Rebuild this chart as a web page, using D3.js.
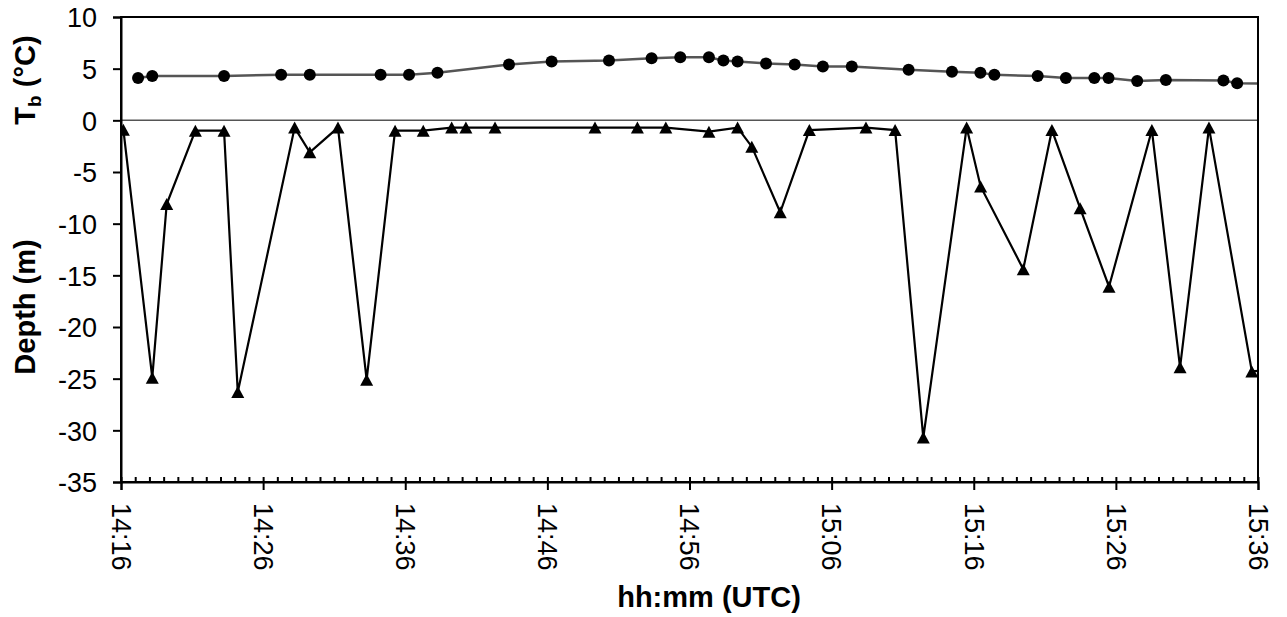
<!DOCTYPE html>
<html>
<head>
<meta charset="utf-8">
<script src="https://cdn.jsdelivr.net/npm/d3@7/dist/d3.min.js"></script>
<style>
  html, body { margin: 0; padding: 0; background: #fff; }
  svg { display: block; }
  text { font-family: "Liberation Sans", Arial, sans-serif; fill: #000; }
</style>
</head>
<body>
<svg id="chart" width="1287" height="617"></svg>
<script>
// ---- data ----
const tempTimes = ["14:17:12","14:18:12","14:23:15","14:27:16","14:29:17","14:34:16","14:36:16","14:38:16",
  "14:43:18","14:46:18","14:50:20","14:53:20","14:55:21","14:57:22","14:58:23","14:59:23","15:01:23",
  "15:03:24","15:05:23","15:07:25","15:11:25","15:14:28","15:16:28","15:17:27","15:20:30","15:22:29",
  "15:24:29","15:25:29","15:27:30","15:29:31","15:33:34","15:34:32","15:36:30"];
const tempValues = [4.1,4.3,4.3,4.4,4.4,4.4,4.4,4.6,
  5.4,5.7,5.8,6.0,6.1,6.1,5.8,5.7,5.5,
  5.4,5.2,5.2,4.9,4.7,4.6,4.4,4.3,4.1,
  4.1,4.1,3.8,3.9,3.85,3.6,3.55];

const depthTimes = ["14:16:10","14:18:12","14:19:13","14:21:14","14:23:15","14:24:13","14:28:13","14:29:17",
  "14:31:16","14:33:17","14:35:17","14:37:16","14:39:16","14:40:16","14:42:19","14:49:21","14:52:20",
  "14:54:20","14:57:22","14:59:23","15:00:23","15:02:23","15:04:26","15:08:25","15:10:28","15:12:27",
  "15:15:30","15:16:29","15:19:29","15:21:30","15:23:29","15:25:31","15:28:32","15:30:31","15:32:33",
  "15:35:34","15:36:30"];
const depthValues = [-0.9,-24.9,-8.1,-1.0,-1.0,-26.3,-0.7,-3.1,
  -0.7,-25.1,-1.0,-1.0,-0.7,-0.7,-0.7,-0.7,-0.7,
  -0.7,-1.1,-0.7,-2.55,-8.9,-0.94,-0.7,-0.94,-30.7,
  -0.7,-6.4,-14.4,-0.94,-8.5,-16.1,-0.94,-23.9,-0.7,
  -24.3,-24.2];

const xDomain = ["14:16:00","15:36:00"];
const xTickLabels = ["14:16","14:26","14:36","14:46","14:56","15:06","15:16","15:26","15:36"];
const yTicks = [10,5,0,-5,-10,-15,-20,-25,-30,-35];
const yDomain = [-35, 10];

// ---- layout ----
const svg = d3.select("#chart");
const L = 121, T = 17, W = 1137, H = 465;
const parse = d3.timeParse("%H:%M:%S");
const parseHM = d3.timeParse("%H:%M");

const x = d3.scaleTime().domain(xDomain.map(parse)).range([L, L + W]);
const y = d3.scaleLinear().domain(yDomain).range([T + H, T]);

const tempData = tempTimes.map((t, i) => ({ t: parse(t), v: tempValues[i] }));
const depthData = depthTimes.map((t, i) => ({ t: parse(t), v: depthValues[i] }));

svg.append("defs").append("clipPath").attr("id", "plotclip")
  .append("rect").attr("x", L).attr("y", T).attr("width", W).attr("height", H);

// zero line
svg.append("line")
  .attr("x1", L).attr("x2", L + W).attr("y1", y(0)).attr("y2", y(0))
  .attr("stroke", "#555").attr("stroke-width", 1.5);

const g = svg.append("g").attr("clip-path", "url(#plotclip)");
const line = d3.line().x(d => x(d.t)).y(d => y(d.v));

g.append("path").datum(tempData).attr("d", line)
  .attr("fill", "none").attr("stroke", "#555").attr("stroke-width", 2.5);
g.append("path").datum(depthData).attr("d", line)
  .attr("fill", "none").attr("stroke", "#000").attr("stroke-width", 2.2);

g.selectAll("circle.tb").data(tempData).join("circle").attr("class", "tb")
  .attr("cx", d => x(d.t)).attr("cy", d => y(d.v)).attr("r", 6).attr("fill", "#000");

const tw = 13, th = 12;
const tri = `M0,${-th/2}L${tw/2},${th/2}L${-tw/2},${th/2}Z`;
g.selectAll("path.dp").data(depthData).join("path").attr("class", "dp")
  .attr("d", tri)
  .attr("transform", d => `translate(${x(d.t)},${y(d.v)})`)
  .attr("fill", "#000");

// frame
svg.append("rect").attr("x", L).attr("y", T).attr("width", W).attr("height", H)
  .attr("fill", "none").attr("stroke", "#000").attr("stroke-width", 2);

// y axis
const yAxis = svg.append("g").attr("transform", `translate(${L},0)`)
  .call(d3.axisLeft(y).tickValues(yTicks).tickSize(8).tickPadding(16).tickFormat(d3.format("d")));
yAxis.select(".domain").attr("stroke-width", 2);
yAxis.selectAll(".tick line").attr("stroke-width", 2);
yAxis.selectAll("text").attr("font-size", 27).attr("dy", "0.36em")
  .text(d => d < 0 ? "-" + Math.abs(d) : d);

// x axis major
const xMajor = xTickLabels.map(parseHM);
const xAxis = svg.append("g").attr("transform", `translate(0,${T + H})`)
  .call(d3.axisBottom(x).tickValues(xMajor).tickSize(8).tickFormat(d3.timeFormat("%H:%M")));
xAxis.select(".domain").attr("stroke-width", 2);
xAxis.selectAll(".tick line").attr("stroke-width", 2);
xAxis.selectAll("text").attr("font-size", 27)
  .attr("transform", "rotate(90)")
  .attr("text-anchor", "start")
  .attr("x", 21).attr("y", 0).attr("dy", "0.36em");

// x axis minor (inside)
const xMinor = svg.append("g").attr("transform", `translate(0,${T + H})`)
  .call(d3.axisTop(x).ticks(d3.timeMinute.every(1)).tickSize(5).tickFormat(""));
xMinor.select(".domain").remove();
xMinor.selectAll(".tick line").attr("stroke-width", 2);

// titles
svg.append("text").attr("x", 709).attr("y", 607).attr("text-anchor", "middle")
  .attr("font-size", 29).attr("font-weight", "bold").text("hh:mm (UTC)");

svg.append("text").attr("transform", "translate(35,307) rotate(-90)")
  .attr("text-anchor", "middle").attr("font-size", 29).attr("font-weight", "bold")
  .text("Depth (m)");

const tb = svg.append("text").attr("transform", "translate(35,80) rotate(-90)")
  .attr("text-anchor", "middle").attr("font-size", 29).attr("font-weight", "bold");
tb.append("tspan").text("T");
tb.append("tspan").attr("font-size", 19).attr("dy", 6).text("b");
tb.append("tspan").attr("dy", -6).text(" (\u00B0C)");
</script>
</body>
</html>
